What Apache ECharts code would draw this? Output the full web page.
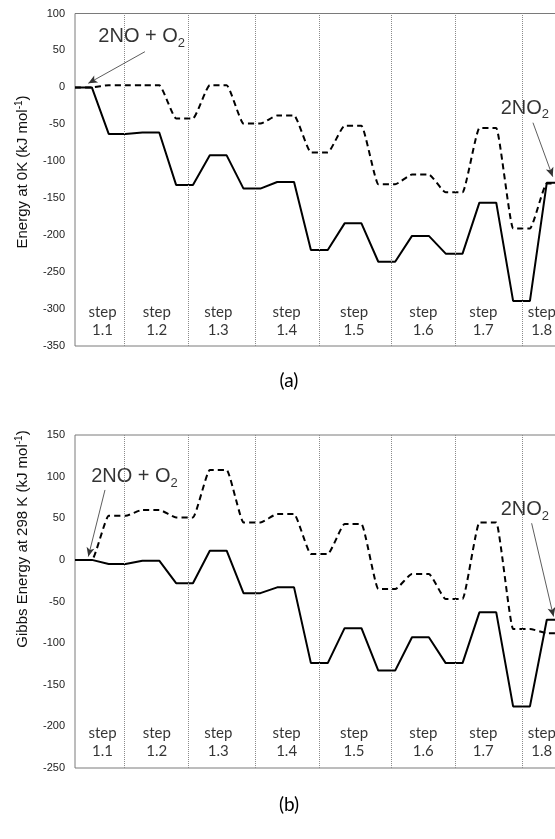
<!DOCTYPE html>
<html>
<head>
<meta charset="utf-8">
<script src="https://cdn.jsdelivr.net/npm/echarts@6/dist/echarts.min.js"></script>
<style>
html,body{margin:0;padding:0;background:#fff;overflow:hidden;}
#c{width:600px;height:839px;}
</style>
</head>
<body>
<div id="c"></div>
<script>
// ---- data ----
var stepNames = ['1.1','1.2','1.3','1.4','1.5','1.6','1.7','1.8'];
var stepLabelX = [1.63, 4.85, 8.5, 12.56, 16.56, 20.67, 24.23, 27.7];
var stepBoundaryX = [2.93, 6.72, 10.72, 14.51, 18.74, 22.55, 26.53];
// energy at 0 K, one value per state (level)
var e0Solid  = [0, -63, -61, -132, -92, -137, -128, -220, -184, -236, -201, -225, -156, -289, -129];
var e0Dashed = [0, 3, 3, -42, 3, -49, -38, -88, -52, -131, -118, -142, -55, -191, -130];
// Gibbs energy at 298 K
var gSolid  = [0, -5, -1, -28, 11, -40, -33, -124, -82, -133, -93, -124, -63, -176, -72];
var gDashed = [0, 53, 60, 51, 108, 45, 55, 7, 43, -35, -17, -47, 45, -83, -88];
var yTicksA = {min: -350, max: 100, interval: 50};
var yTicksB = {min: -250, max: 150, interval: 50};
var stepLabelY = [-316, -219];
// annotations: [key, textX, textY, arrowFromX, arrowFromY, arrowToX, arrowToY]
var annotA = [
  ['reac', 3.96, 68.6, 4.15, 48.3, 0.79, 5.5],
  ['prod', 26.7, -28.3, 27.18, -47.8, 28.35, -120.8]
];
var annotB = [
  ['reac', 3.53, 100, 1.78, 84, 0.79, 4],
  ['prod', 26.7, 60, 27.1, 44, 28.4, -68]
];
var annotText = {reac: '2NO + O{sub|2}', prod: '2NO{sub|2}'};

// ---- helpers ----
function levels(vals) {
  var pts = [];
  for (var k = 0; k < vals.length; k++) {
    pts.push([2 * k, vals[k]]);
    pts.push([2 * k + 1, vals[k]]);
  }
  return pts;
}
var chart = echarts.init(document.getElementById('c'));
var gridW = 505.5;
var grids = [
  {left: 75, top: 13.5, width: gridW, height: 332.5, show: true, borderColor: '#7a7a7a', borderWidth: 1},
  {left: 75, top: 435, width: gridW, height: 333, show: true, borderColor: '#7a7a7a', borderWidth: 1}
];
function xAx(i) {
  return {gridIndex: i, type: 'value', min: 0, max: 30,
    axisLine: {show: false}, axisTick: {show: false}, axisLabel: {show: false}, splitLine: {show: false}};
}
function yAx(i, t) {
  return {gridIndex: i, type: 'value', min: t.min, max: t.max, interval: t.interval,
    axisLine: {show: false}, axisTick: {show: false}, splitLine: {show: false},
    axisLabel: {color: '#222', fontFamily: 'Arial, Liberation Sans', fontSize: 11, margin: 10}};
}
var series = [];
function addPanel(i, solid, dashed, labelY, annots) {
  series.push({type: 'line', xAxisIndex: i, yAxisIndex: i, data: levels(dashed), showSymbol: false,
    smooth: 0.18, smoothMonotone: 'x', z: 3,
    lineStyle: {color: '#000', width: 2, type: [6, 4]}});
  series.push({type: 'line', xAxisIndex: i, yAxisIndex: i, data: levels(solid), showSymbol: false,
    z: 4, lineStyle: {color: '#000', width: 2}});
  // step labels + step boundaries
  series.push({type: 'scatter', xAxisIndex: i, yAxisIndex: i, symbolSize: 0, silent: true,
    data: stepNames.map(function (n, j) { return {name: 'step\n' + n, value: [stepLabelX[j], labelY]}; }),
    label: {show: true, position: 'inside', formatter: '{b}', color: '#000',
      textBorderWidth: 0, textBorderColor: 'transparent',
      fontFamily: 'Lato', fontSize: 15, lineHeight: 18},
    markLine: {silent: true, symbol: 'none', label: {show: false},
      lineStyle: {color: '#8a8a8a', width: 1, type: 'dotted'},
      data: stepBoundaryX.map(function (x) { return {xAxis: x}; })}
  });
  // annotations
  series.push({type: 'scatter', xAxisIndex: i, yAxisIndex: i, symbolSize: 0, silent: true,
    data: annots.map(function (a) { return {name: a[0], value: [a[1], a[2]]}; }),
    label: {show: true, position: 'inside', color: '#000',
      textBorderWidth: 0, textBorderColor: 'transparent',
      formatter: function (p) { return annotText[p.name]; },
      fontFamily: 'Arial, Liberation Sans', fontSize: 20, lineHeight: 26,
      rich: {sub: {fontSize: 13, fontFamily: 'Arial, Liberation Sans', verticalAlign: 'bottom', lineHeight: 26,
        color: '#000', textBorderWidth: 0}}},
    markLine: {silent: true, symbol: ['none', 'arrow'], symbolSize: [6, 9], label: {show: false},
      lineStyle: {color: '#333', width: 0.8, type: 'solid'},
      data: annots.map(function (a) { return [{coord: [a[3], a[4]]}, {coord: [a[5], a[6]]}]; })}
  });
}
addPanel(0, e0Solid, e0Dashed, stepLabelY[0], annotA);
addPanel(1, gSolid, gDashed, stepLabelY[1], annotB);

var nameRich = {sup: {fontSize: 10, fontFamily: 'Arial, Liberation Sans', verticalAlign: 'top', lineHeight: 18, fill: '#111'}};
chart.setOption({
  animation: false,
  grid: grids,
  xAxis: [xAx(0), xAx(1)],
  yAxis: [yAx(0, yTicksA), yAx(1, yTicksB)],
  series: series,
  graphic: [
    {type: 'text', x: 23, y: 172, rotation: Math.PI / 2,
      style: {text: 'Energy at 0K (kJ mol{sup|-1})', align: 'center', verticalAlign: 'middle',
        fontFamily: 'Arial, Liberation Sans', fontSize: 15, lineHeight: 18, fill: '#111', rich: nameRich}},
    {type: 'text', x: 23, y: 539, rotation: Math.PI / 2,
      style: {text: 'Gibbs Energy at 298 K (kJ mol{sup|-1})', align: 'center', verticalAlign: 'middle',
        fontFamily: 'Arial, Liberation Sans', fontSize: 15, lineHeight: 18, fill: '#111', rich: nameRich}},
    {type: 'text', x: 289, y: 381, style: {text: '(a)', align: 'center', verticalAlign: 'middle',
      fontFamily: 'Lato', fontSize: 19, fill: '#000'}},
    {type: 'text', x: 289, y: 805, style: {text: '(b)', align: 'center', verticalAlign: 'middle',
      fontFamily: 'Lato', fontSize: 19, fill: '#000'}}
  ]
});
</script>
</body>
</html>
